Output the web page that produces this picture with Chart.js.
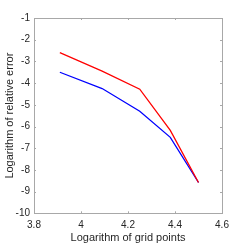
<!DOCTYPE html>
<html>
<head>
<meta charset="utf-8">
<script src="https://cdn.jsdelivr.net/npm/chart.js@4/dist/chart.umd.min.js"></script>
<style>
  html, body { margin: 0; padding: 0; background: #fff; }
  #wrap { width: 245px; height: 245px; }
</style>
</head>
<body>
<div id="wrap"><canvas id="errChart" width="245" height="245"></canvas></div>
<script>
// log10 of grid points (x) and log10 of relative error for the two methods
const gridLog = [3.91, 4.09, 4.25, 4.38, 4.5];
const redErr = [-2.6, -3.45, -4.28, -6.18, -8.58];
const blueErr = [-3.5, -4.25, -5.3, -6.5, -8.58];

const xTicks = [3.8, 4.0, 4.2, 4.4, 4.6];
const yTicks = [-1, -2, -3, -4, -5, -6, -7, -8, -9, -10];

const axisColor = '#262626';
const boxColor = '#a8a8a8';

// matlab-ish box with tick marks pointing inward
const boxTicks = {
  id: 'boxTicks',
  afterDatasetsDraw(chart) {
    const { ctx, chartArea: a, scales } = chart;
    const len = 2;
    ctx.save();
    ctx.strokeStyle = boxColor;
    ctx.lineWidth = 1;
    ctx.beginPath();
    xTicks.forEach(v => {
      const x = Math.round(scales.x.getPixelForValue(v)) + 0.5;
      ctx.moveTo(x, a.bottom); ctx.lineTo(x, a.bottom - len);
      ctx.moveTo(x, a.top); ctx.lineTo(x, a.top + len);
    });
    yTicks.forEach(v => {
      const y = Math.round(scales.y.getPixelForValue(v)) + 0.5;
      ctx.moveTo(a.left, y); ctx.lineTo(a.left + len, y);
      ctx.moveTo(a.right, y); ctx.lineTo(a.right - len, y);
    });
    ctx.stroke();
    ctx.strokeRect(Math.round(a.left) + 0.5, Math.round(a.top) + 0.5,
      Math.round(a.right - a.left), Math.round(a.bottom - a.top));
    ctx.restore();
  }
};

const ctx = document.getElementById('errChart').getContext('2d');
new Chart(ctx, {
  type: 'line',
  data: {
    datasets: [
      {
        data: gridLog.map((x, i) => ({ x, y: redErr[i] })),
        borderColor: '#ff0000',
        borderWidth: 1.3,
        pointRadius: 0,
        tension: 0,
        fill: false,
      },
      {
        data: gridLog.map((x, i) => ({ x, y: blueErr[i] })),
        borderColor: '#0000ff',
        borderWidth: 1.3,
        pointRadius: 0,
        tension: 0,
        fill: false,
      },
    ],
  },
  options: {
    responsive: false,
    animation: false,
    layout: { padding: { top: 18, right: 23, left: 0, bottom: 0 } },
    plugins: {
      legend: { display: false },
      tooltip: { enabled: false },
    },
    scales: {
      x: {
        type: 'linear',
        min: 3.8,
        max: 4.6,
        afterBuildTicks: s => { s.ticks = xTicks.map(v => ({ value: v })); },
        afterFit: s => { s.height = 31.7; },
        grid: { display: false, drawTicks: false },
        border: { display: false },
        ticks: {
          color: axisColor,
          font: { family: 'Liberation Sans', size: 10 },
          padding: 6,
          maxRotation: 0,
          callback: v => String(Math.round(v * 10) / 10),
        },
        title: {
          display: true,
          text: 'Logarithm of grid points',
          color: axisColor,
          font: { family: 'Liberation Sans', size: 11 },
          padding: { top: 0, bottom: 0 },
        },
      },
      y: {
        min: -10,
        max: -1,
        afterBuildTicks: s => { s.ticks = yTicks.map(v => ({ value: v })); },
        afterFit: s => { s.width = 34; },
        grid: { display: false, drawTicks: false },
        border: { display: false },
        ticks: {
          color: axisColor,
          font: { family: 'Liberation Sans', size: 10 },
          padding: 4,
        },
        title: {
          display: true,
          text: 'Logarithm of relative error',
          color: axisColor,
          font: { family: 'Liberation Sans', size: 11 },
          padding: { top: 3, bottom: 0 },
        },
      },
    },
  },
  plugins: [boxTicks],
});
</script>
</body>
</html>
